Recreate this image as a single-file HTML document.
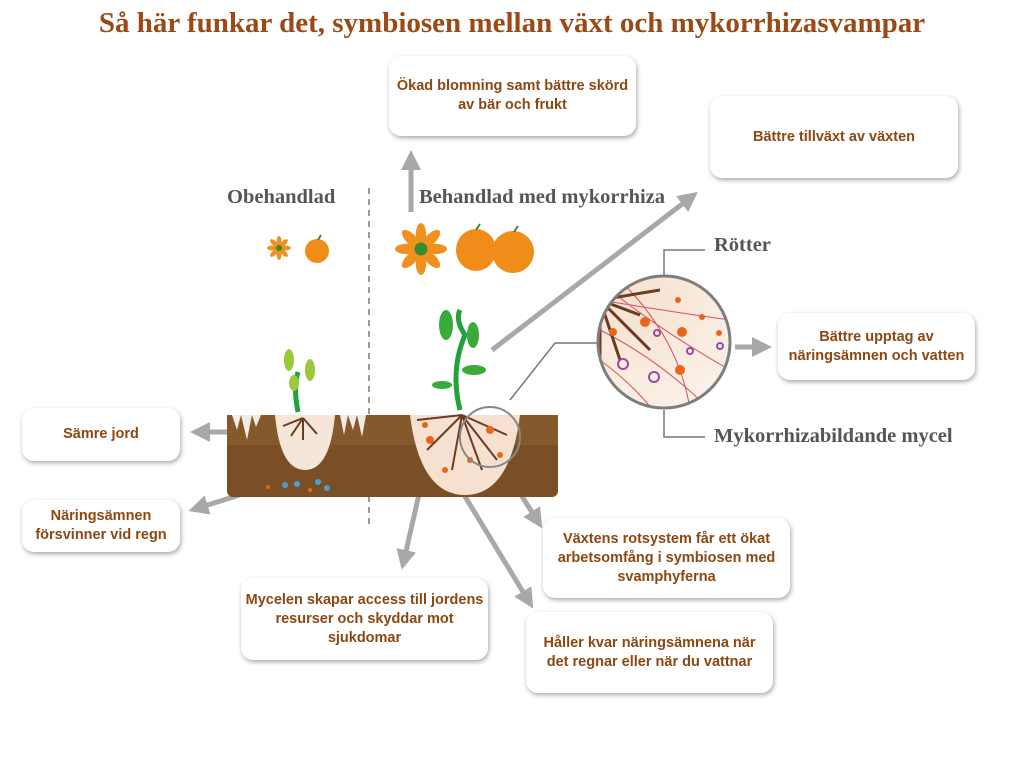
<!DOCTYPE html>
<html><head><meta charset="utf-8"><style>
body{margin:0;width:1024px;height:768px;background:#fff;position:relative;overflow:hidden;font-family:"Liberation Sans",sans-serif}
.t{position:absolute;top:7px;left:0;width:1024px;text-align:center;font-family:"Liberation Serif",serif;font-weight:bold;font-size:29px;color:#9b4a16}
.b{position:absolute;background:#fff;border-radius:12px;box-shadow:1px 2px 5px rgba(0,0,0,.35);display:flex;align-items:center;justify-content:center;text-align:center;font-weight:bold;font-size:14.5px;line-height:19px;color:#8c4712}
.l{position:absolute;font-family:"Liberation Serif",serif;font-weight:bold;font-size:20.5px;color:#555}
</style></head><body>
<div class="t">Så här funkar det, symbiosen mellan växt och mykorrhizasvampar</div>
<svg width="1024" height="768" style="position:absolute;left:0;top:0">
<defs>
<marker id="a" markerWidth="4" markerHeight="4" refX="2" refY="2" orient="auto"><path d="M0,0L4,2L0,4z" fill="#a8a8a8"/></marker>
<clipPath id="cc"><circle cx="664" cy="342" r="66"/></clipPath>
<radialGradient id="bg" cx="0.3" cy="0.2" r="1"><stop offset="0" stop-color="#f6e2cf"/><stop offset="1" stop-color="#fbf3ec"/></radialGradient>
<g id="fl"><g fill="#f0901e"><ellipse cx="0" cy="-11" rx="4" ry="9"/><ellipse cx="0" cy="-11" rx="4" ry="9" transform="rotate(45)"/><ellipse cx="0" cy="-11" rx="4" ry="9" transform="rotate(90)"/><ellipse cx="0" cy="-11" rx="4" ry="9" transform="rotate(135)"/><ellipse cx="0" cy="-11" rx="4" ry="9" transform="rotate(180)"/><ellipse cx="0" cy="-11" rx="4" ry="9" transform="rotate(225)"/><ellipse cx="0" cy="-11" rx="4" ry="9" transform="rotate(270)"/><ellipse cx="0" cy="-11" rx="4" ry="9" transform="rotate(315)"/></g><circle r="5" fill="#3a8a30"/></g>
</defs>
<g stroke="#a8a8a8" stroke-width="5" fill="none">
<line x1="411" y1="212" x2="411" y2="160" marker-end="url(#a)"/>
<line x1="492" y1="350" x2="690" y2="198" marker-end="url(#a)"/>
<line x1="735" y1="347" x2="762" y2="347" marker-end="url(#a)"/>
<line x1="252" y1="432" x2="200" y2="432" marker-end="url(#a)"/>
<line x1="262" y1="488" x2="198" y2="508" marker-end="url(#a)"/>
<line x1="428" y1="455" x2="404" y2="560" marker-end="url(#a)"/>
<line x1="455" y1="480" x2="528" y2="600" marker-end="url(#a)"/>
<line x1="500" y1="462" x2="537" y2="520" marker-end="url(#a)"/>
</g>
<line x1="369" y1="188" x2="369" y2="525" stroke="#999" stroke-width="2" stroke-dasharray="6,5"/>
<rect x="227" y="415" width="331" height="82" rx="6" fill="#7a4f25"/>
<rect x="227" y="415" width="331" height="30" fill="#84592c"/>
<path d="M232 415 l5 15 l4 -15 l6 25 l5 -25 l4 12 l5 -12 z M340 415 l4 20 l4 -20 l5 15 l4 -15 l5 22 l4 -22z" fill="#f3ece4"/>
<path d="M275 415 h60 q-5 55 -30 55 q-25 0 -30 -55z" fill="#f4e6d8"/>
<path d="M410 415 h110 q-10 80 -55 80 q-45 0 -55 -80z" fill="#f6e0cf"/>
<g stroke="#6b3b22" stroke-width="2" fill="none">
<path d="M303 418 l-12 18 M303 418 l14 16 M303 418 l0 22 M303 418 l-20 8"/>
<path d="M462 415 l-35 35 M462 415 l-10 55 M462 415 l20 55 M462 415 l45 20 M462 415 l-45 5 M462 415 l35 45"/>
</g>
<g fill="#e8661b"><circle cx="430" cy="440" r="4"/><circle cx="490" cy="430" r="4"/><circle cx="470" cy="460" r="3"/><circle cx="445" cy="470" r="3"/><circle cx="500" cy="455" r="3"/><circle cx="425" cy="425" r="3"/><circle cx="268" cy="487" r="2"/><circle cx="310" cy="490" r="2"/></g>
<g fill="#4aa0d6"><circle cx="285" cy="485" r="3"/><circle cx="297" cy="484" r="3"/><circle cx="318" cy="482" r="3"/><circle cx="327" cy="488" r="3"/></g>
<circle cx="490" cy="437" r="30" fill="none" stroke="#888" stroke-width="2"/>
<path d="M510 400 L555 343 H598" stroke="#777" stroke-width="1.5" fill="none"/>
<path d="M664 276 V250 H705 M664 410 V437 H705" stroke="#777" stroke-width="1.5" fill="none"/>
<circle cx="664" cy="342" r="66" fill="url(#bg)"/>
<g clip-path="url(#cc)" fill="none">
<g stroke="#d4515f" stroke-width="1"><path d="M600 300 q60 10 130 20 M610 290 q50 40 120 80 M600 330 q60 30 110 80 M620 280 q60 60 70 130 M600 360 q40 30 60 60"/></g>
<g stroke="#6b3b22" stroke-width="3"><path d="M600 300 l40 15 M600 300 l20 60 M600 300 l50 50 M600 300 l0 80 M600 300 l60 -10"/></g>
<g fill="#e8661b"><circle cx="645" cy="322" r="5"/><circle cx="682" cy="332" r="5"/><circle cx="680" cy="370" r="5"/><circle cx="613" cy="332" r="4"/><circle cx="702" cy="317" r="3"/><circle cx="719" cy="333" r="3"/><circle cx="678" cy="300" r="3"/></g>
<g stroke="#9a4aa0" stroke-width="2"><circle cx="623" cy="364" r="5"/><circle cx="654" cy="377" r="5"/><circle cx="690" cy="351" r="3"/><circle cx="720" cy="346" r="3"/><circle cx="657" cy="333" r="3"/></g>
</g>
<circle cx="664" cy="342" r="66" fill="none" stroke="#7d7d7d" stroke-width="3"/>
<use href="#fl" transform="translate(421,249) scale(1.3)"/>
<use href="#fl" transform="translate(279,248) scale(0.6)"/>
<g fill="#f08c18"><ellipse cx="317" cy="251" rx="12" ry="12"/><ellipse cx="476" cy="250" rx="20" ry="21"/><ellipse cx="513" cy="252" rx="21" ry="21"/></g>
<g stroke="#3a8a30" stroke-width="2"><path d="M318 240 l3 -5 M476 230 l4 -6 M514 232 l4 -6"/></g>
<g stroke="#22a23a" stroke-width="5" fill="none"><path d="M460 410 q-10 -40 5 -75 q-10 -15 -5 -25"/><path d="M298 412 q-5 -25 0 -40"/></g>
<g fill="#3aaa3a"><ellipse cx="446" cy="325" rx="7" ry="15"/><ellipse cx="473" cy="335" rx="6" ry="13"/><ellipse cx="474" cy="370" rx="12" ry="5"/><ellipse cx="442" cy="385" rx="10" ry="4"/></g>
<g fill="#9cc93a"><ellipse cx="289" cy="360" rx="5" ry="11"/><ellipse cx="310" cy="370" rx="5" ry="11"/><ellipse cx="294" cy="383" rx="5" ry="8"/></g>
</svg>
<div class="l" style="left:227px;top:186px">Obehandlad</div>
<div class="l" style="left:419px;top:186px">Behandlad med mykorrhiza</div>
<div class="l" style="left:714px;top:234px">Rötter</div>
<div class="l" style="left:714px;top:425px">Mykorrhizabildande mycel</div>
<div class="b" style="left:389px;top:56px;width:247px;height:80px">Ökad blomning samt bättre skörd<br>av bär och frukt</div>
<div class="b" style="left:710px;top:96px;width:248px;height:82px">Bättre tillväxt av växten</div>
<div class="b" style="left:22px;top:408px;width:158px;height:53px">Sämre jord</div>
<div class="b" style="left:22px;top:500px;width:158px;height:52px">Näringsämnen<br>försvinner vid regn</div>
<div class="b" style="left:778px;top:313px;width:197px;height:67px">Bättre upptag av<br>näringsämnen och vatten</div>
<div class="b" style="left:543px;top:518px;width:247px;height:80px">Växtens rotsystem får ett ökat<br>arbetsomfång i symbiosen med<br>svamphyferna</div>
<div class="b" style="left:241px;top:578px;width:247px;height:82px">Mycelen skapar access till jordens<br>resurser och skyddar mot<br>sjukdomar</div>
<div class="b" style="left:526px;top:612px;width:247px;height:81px">Håller kvar näringsämnena när<br>det regnar eller när du vattnar</div>
</body></html>
